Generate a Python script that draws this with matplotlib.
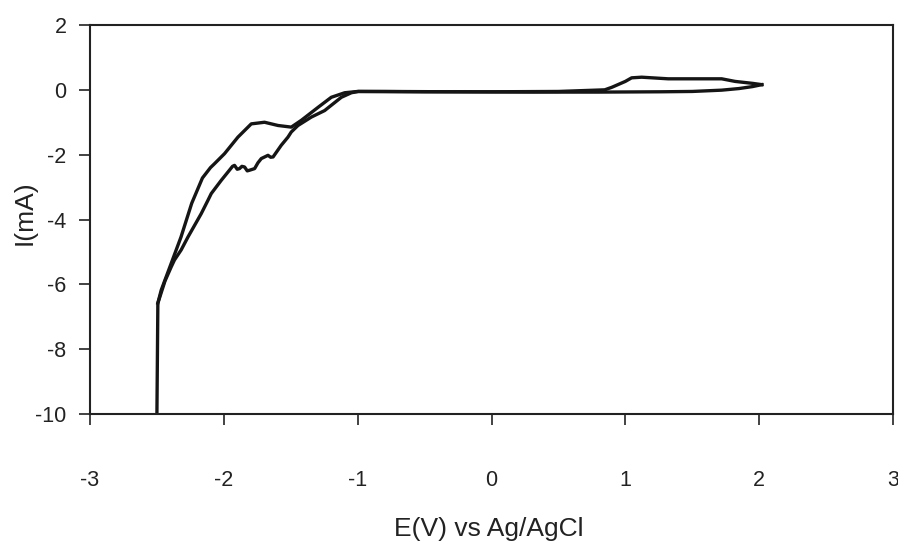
import numpy as np
import matplotlib.pyplot as plt

plt.rcParams['font.family'] = ['Liberation Sans', 'DejaVu Sans']
plt.rcParams['axes.unicode_minus'] = False

# negative-going scan: from the anodic tip back along the baseline, down to -2.5 V
e_neg = [2.02, 1.95, 1.85, 1.72, 1.50, 1.27, 0.80, 0.30, -0.30, -0.80, -1.00,
         -1.097, -1.197, -1.296, -1.421, -1.496, -1.595, -1.696, -1.795, -1.895,
         -1.995, -2.070, -2.10, -2.16, -2.24, -2.32, -2.393, -2.468, -2.493, -2.50]
i_neg = [0.16, 0.10, 0.04, -0.01, -0.05, -0.06, -0.07, -0.07, -0.06, -0.05, -0.05,
         -0.09, -0.23, -0.54, -0.94, -1.15, -1.10, -1.00, -1.05, -1.46,
         -1.97, -2.28, -2.40, -2.72, -3.50, -4.54, -5.35, -6.18, -6.58, -10.0]

# positive-going scan: back up the noisy branch to +2 V
e_pos = [-2.493, -2.44, -2.393, -2.369, -2.319, -2.268, -2.169, -2.119, -2.094,
         -2.019, -1.970, -1.935, -1.920, -1.900, -1.883, -1.865, -1.845, -1.825,
         -1.808, -1.770, -1.745, -1.720, -1.670, -1.650, -1.632, -1.571, -1.521,
         -1.496, -1.446, -1.346, -1.247, -1.122, -1.047, -0.995, -0.50, 0.00,
         0.50, 0.846, 0.90, 1.00, 1.047, 1.122, 1.32, 1.72, 1.82, 1.95, 2.02]
i_pos = [-6.58, -5.90, -5.46, -5.25, -4.94, -4.54, -3.82, -3.41, -3.20,
         -2.79, -2.54, -2.36, -2.33, -2.45, -2.43, -2.36, -2.38, -2.50,
         -2.48, -2.43, -2.25, -2.12, -2.02, -2.08, -2.07, -1.71, -1.46,
         -1.30, -1.10, -0.84, -0.64, -0.23, -0.09, -0.05, -0.06, -0.06,
         -0.05, 0.00, 0.08, 0.26, 0.37, 0.39, 0.34, 0.34, 0.26, 0.20, 0.16]

x_ticks = [-3, -2, -1, 0, 1, 2, 3]
y_ticks = [-10, -8, -6, -4, -2, 0, 2]

fig = plt.figure(figsize=(8.98, 5.45), dpi=100)
ax = fig.add_axes([90/898, 1-414/545, 803/898, 389/545])

ax.plot(e_neg, i_neg, color='#151515', lw=2.4, solid_joinstyle='round')
ax.plot(e_pos, i_pos, color='#151515', lw=2.4, solid_joinstyle='round')

ax.set_xlim(-3, 3)
ax.set_ylim(-10, 2)
ax.set_xticks(x_ticks)
ax.set_yticks(y_ticks)

for s in ax.spines.values():
    s.set_linewidth(1.5)
    s.set_color('#222222')

ax.tick_params(axis='both', direction='out', length=8, width=1.2,
               labelsize=15.5, colors='#222222')
ax.tick_params(axis='x', pad=32)
ax.tick_params(axis='y', pad=9)

ax.set_xlabel('E(V) vs Ag/AgCl', fontsize=19, color='#222222')
ax.set_ylabel('I(mA)', fontsize=19, color='#222222')
ax.xaxis.set_label_coords(0.496, -0.265)
ax.yaxis.set_label_coords(-0.066, 0.517)

fig.savefig('out.png', dpi=100)
